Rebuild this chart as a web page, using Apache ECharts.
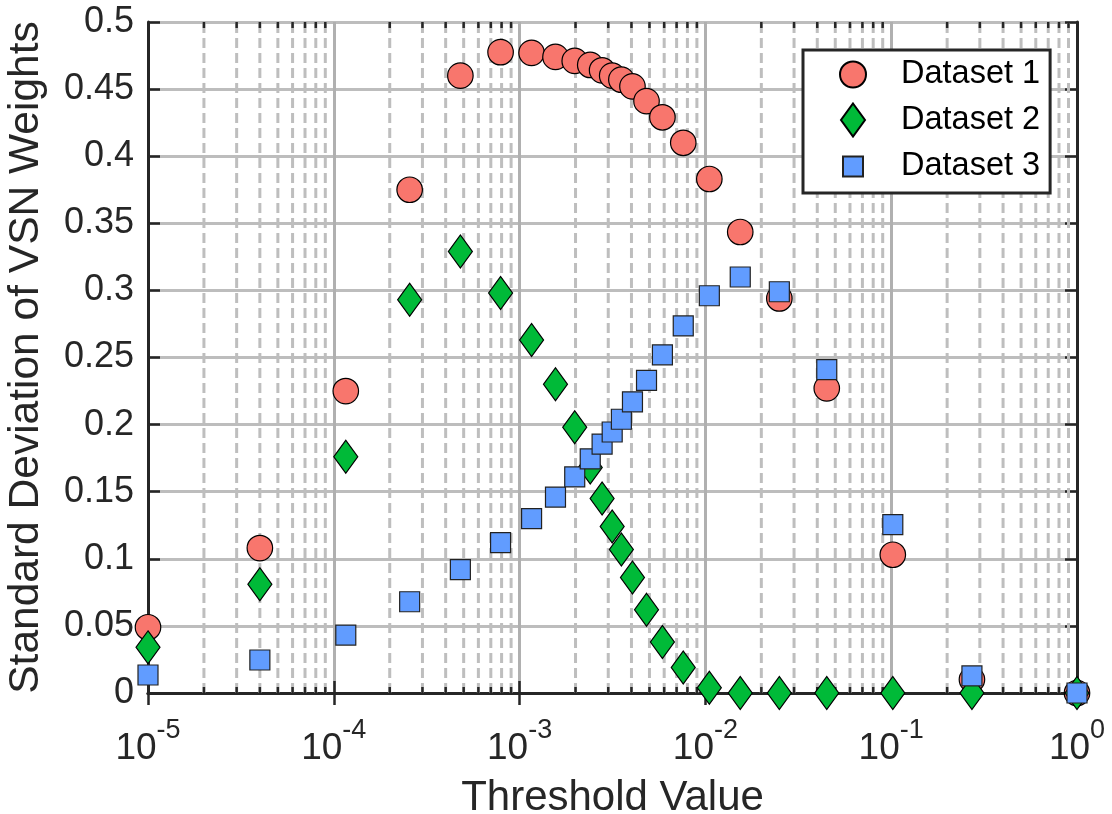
<!DOCTYPE html>
<html>
<head>
<meta charset="utf-8">
<title>Standard Deviation of VSN Weights</title>
<script src="https://cdn.jsdelivr.net/npm/echarts@6/dist/echarts.min.js"></script>
<style>
  html, body { margin: 0; padding: 0; background: #fff; }
  #chart { width: 1112px; height: 814px; }
</style>
</head>
<body>
<div id="chart"></div>
<script>
// Threshold values shared by all three datasets
const thresholds = [1e-5, 4.0e-5, 1.16e-4, 2.56e-4, 4.8e-4, 7.9e-4, 1.16e-3, 1.56e-3, 1.98e-3,
  2.4e-3, 2.78e-3, 3.15e-3, 3.53e-3, 4.05e-3, 4.82e-3, 5.87e-3, 7.6e-3, 1.05e-2, 1.54e-2,
  2.5e-2, 4.5e-2, 0.102, 0.272, 1];

// Standard deviation of VSN weights per dataset
const dataset1 = [0.049, 0.108, 0.225, 0.375, 0.460, 0.4775, 0.477, 0.474, 0.471, 0.468,
  0.464, 0.460, 0.457, 0.452, 0.441, 0.429, 0.410, 0.383, 0.3435, 0.294, 0.227, 0.103, 0.010, 0];
const dataset2 = [0.034, 0.081, 0.176, 0.293, 0.329, 0.298, 0.263, 0.230, 0.198, 0.168,
  0.145, 0.124, 0.107, 0.086, 0.062, 0.038, 0.019, 0.004, 0, 0, 0, 0, 0, 0];
const dataset3 = [0.0134, 0.0246, 0.0432, 0.068, 0.092, 0.112, 0.130, 0.146, 0.161, 0.1745,
  0.1855, 0.1945, 0.204, 0.217, 0.233, 0.252, 0.2735, 0.296, 0.310, 0.299, 0.241, 0.1255, 0.0127, 0];

const seriesNames = ['Dataset 1', 'Dataset 2', 'Dataset 3'];

// Axis ranges and log-axis minor tick structure
const xMin = 1e-5, xMax = 1;
const yMin = 0, yMax = 0.5, yStep = 0.05;
const minorMantissas = [2, 3, 4, 5, 6, 7, 8, 9];
const minorDecades = [-5, -4, -3, -2, -1];
const minorTicks = [];
minorDecades.forEach(d => minorMantissas.forEach(m => minorTicks.push([m * Math.pow(10, d), yMin])));

const FONT = "'Liberation Sans', Arial, Helvetica, sans-serif";
const INK = '#262626';

const pair = ys => thresholds.map((x, i) => [x, ys[i]]);

const chart = echarts.init(document.getElementById('chart'), null, { renderer: 'canvas' });

const axisLineStyle = { show: true, lineStyle: { color: INK, width: 3 } };
const tickStyle = { show: true, inside: true, length: 12, lineStyle: { color: INK, width: 2.5 } };

chart.setOption({
  animation: false,
  backgroundColor: '#ffffff',
  textStyle: { fontFamily: FONT, color: INK },
  grid: { left: 148, right: 35, top: 22, bottom: 121, containLabel: false, outerBoundsMode: 'none' },
  legend: {
    orient: 'vertical',
    left: 803,
    top: 50,
    padding: [8, 10, 9, 36],
    itemWidth: 26,
    itemHeight: 33,
    itemGap: 11.5,
    borderColor: INK,
    borderWidth: 3,
    backgroundColor: '#ffffff',
    borderRadius: 0,
    selectedMode: false,
    textStyle: { fontSize: 32.5, color: '#000', fontFamily: FONT, lineHeight: 33, padding: [0, 0, 0, 30] },
    data: [
      { name: seriesNames[0], icon: 'circle' },
      { name: seriesNames[1], icon: 'path://M13,0L25,16.5L13,33L1,16.5Z' },
      { name: seriesNames[2], icon: 'path://M0,0M26,33M3,6.5L23,6.5L23,26.5L3,26.5Z' }
    ]
  },
  xAxis: [
    {
      type: 'log',
      logBase: 10,
      min: xMin,
      max: xMax,
      splitNumber: 5,
      name: 'Threshold Value',
      nameLocation: 'middle',
      nameGap: 84,
      nameTextStyle: { fontSize: 42, color: INK, fontFamily: FONT, verticalAlign: 'top' },
      axisLine: axisLineStyle,
      axisTick: tickStyle,
      splitLine: { show: true, lineStyle: { color: '#b0b0b0', width: 3 } },
      axisLabel: {
        margin: 24,
        color: INK,
        formatter: v => '{b|10}{s|' + Math.round(Math.log10(v)) + '}',
        rich: {
          b: { fontSize: 37, fontFamily: FONT, color: INK, lineHeight: 50, verticalAlign: 'bottom' },
          s: { fontSize: 27, fontFamily: FONT, color: INK, lineHeight: 50, verticalAlign: 'top' }
        }
      }
    },
    {
      type: 'log',
      logBase: 10,
      min: xMin,
      max: xMax,
      splitNumber: 5,
      position: 'top',
      axisLine: axisLineStyle,
      axisTick: tickStyle,
      axisLabel: { show: false },
      splitLine: { show: false }
    }
  ],
  yAxis: [
    {
      type: 'value',
      min: yMin,
      max: yMax,
      interval: yStep,
      name: 'Standard Deviation of VSN Weights',
      nameLocation: 'middle',
      nameGap: 100,
      nameTextStyle: { fontSize: 42.5, color: INK, fontFamily: FONT },
      axisLine: axisLineStyle,
      axisTick: tickStyle,
      axisLabel: { fontSize: 36, color: INK, margin: 14, fontFamily: FONT },
      splitLine: { show: true, lineStyle: { color: '#bdbdbd', width: 3 } }
    },
    {
      type: 'value',
      min: yMin,
      max: yMax,
      interval: yStep,
      position: 'right',
      axisLine: axisLineStyle,
      axisTick: tickStyle,
      axisLabel: { show: false },
      splitLine: { show: false }
    }
  ],
  series: [
    {
      // dashed minor grid lines with short minor ticks on the top and bottom edges
      name: 'minor',
      type: 'custom',
      silent: true,
      z: 1,
      data: minorTicks,
      encode: { x: 0, y: 1 },
      renderItem: (params, api) => {
        const v = api.value(0);
        const b = api.coord([v, yMin]);
        const t = api.coord([v, yMax]);
        return {
          type: 'group',
          children: [
            { type: 'line', shape: { x1: b[0], y1: b[1], x2: t[0], y2: t[1] },
              style: { stroke: '#bebebe', lineWidth: 3, lineDash: [10, 5] } },
            { type: 'line', shape: { x1: b[0], y1: b[1], x2: b[0], y2: b[1] - 6 },
              style: { stroke: INK, lineWidth: 2.5 } },
            { type: 'line', shape: { x1: t[0], y1: t[1], x2: t[0], y2: t[1] + 6 },
              style: { stroke: INK, lineWidth: 2.5 } }
          ]
        };
      }
    },
    {
      name: seriesNames[0],
      type: 'scatter',
      z: 3,
      symbol: 'circle',
      symbolSize: 25.5,
      itemStyle: { color: '#F8766D', borderColor: '#000', borderWidth: 1.2, opacity: 1 },
      data: pair(dataset1)
    },
    {
      name: seriesNames[1],
      type: 'scatter',
      z: 4,
      symbol: 'diamond',
      symbolSize: [24, 33],
      itemStyle: { color: '#00BA38', borderColor: '#000', borderWidth: 1.2, opacity: 1 },
      data: pair(dataset2)
    },
    {
      name: seriesNames[2],
      type: 'scatter',
      z: 5,
      symbol: 'rect',
      symbolSize: 20,
      itemStyle: { color: '#619CFF', borderColor: '#222', borderWidth: 1.2, opacity: 1 },
      data: pair(dataset3)
    }
  ]
});
</script>
</body>
</html>
